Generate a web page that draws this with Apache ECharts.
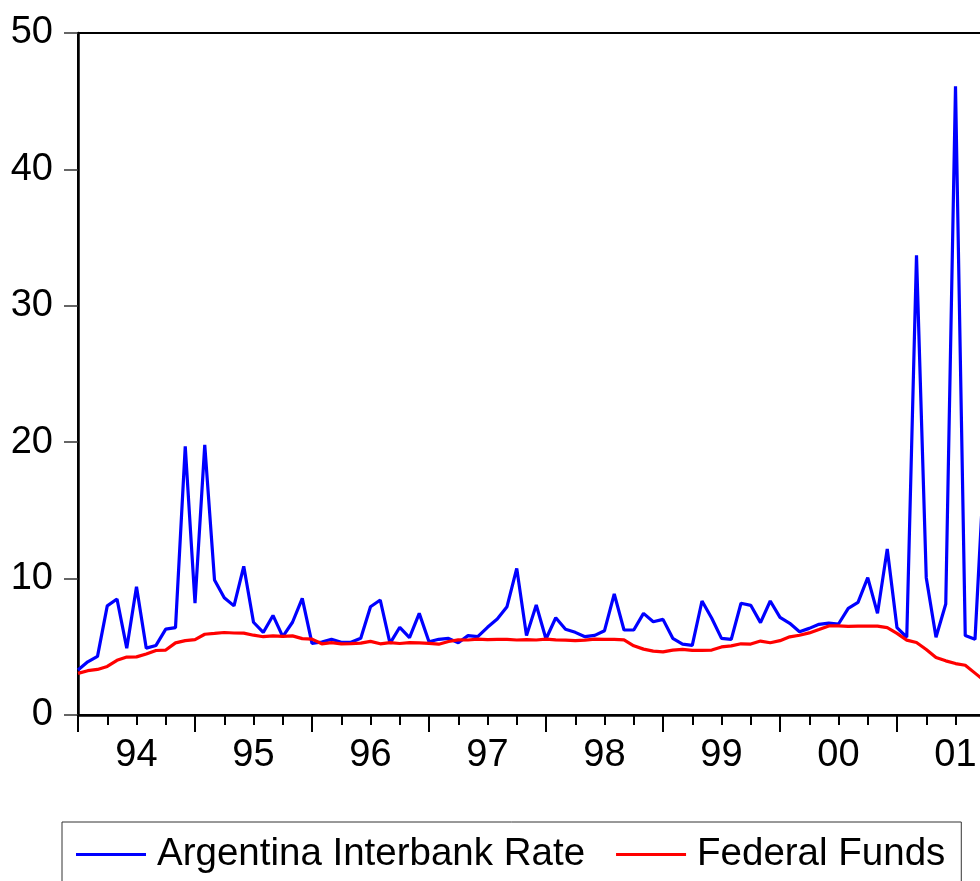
<!DOCTYPE html>
<html>
<head>
<meta charset="utf-8">
<script src="https://cdn.jsdelivr.net/npm/echarts@6/dist/echarts.min.js"></script>
<style>
html,body{margin:0;padding:0;background:#fff;overflow:hidden;width:980px;height:881px;}
#chart{width:1020px;height:881px;}
</style>
</head>
<body>
<div id="chart"></div>
<script>
// Monthly observations starting Jan 1994 (index 0)
const yearLabels = ['94','95','96','97','98','99','00','01'];
const seriesNames = ['Argentina Interbank Rate', 'Federal Funds'];
const argentinaRate = [
  3.3, 3.9, 4.3, 8.0, 8.5, 4.9, 9.4, 4.9, 5.1, 6.3, 6.4, 19.7,
  8.2, 19.8, 9.9, 8.6, 8.0, 10.9, 6.8, 6.05, 7.3, 5.75, 6.8, 8.55,
  5.25, 5.35, 5.55, 5.33, 5.33, 5.62, 7.94, 8.43, 5.25, 6.43, 5.67, 7.45,
  5.37, 5.55, 5.62, 5.3, 5.82, 5.74, 6.43, 7.04, 7.94, 10.75, 5.82, 8.06,
  5.57, 7.13, 6.28, 6.06, 5.74, 5.84, 6.18, 8.87, 6.23, 6.23, 7.45, 6.84,
  7.01, 5.62, 5.2, 5.11, 8.36, 7.09, 5.62, 5.55, 8.19, 8.04, 6.77, 8.36,
  7.16, 6.72, 6.11, 6.35, 6.65, 6.74, 6.67, 7.82, 8.26, 10.07, 7.45, 12.17,
  6.4, 5.7, 33.7, 10.07, 5.7, 8.14, 46.1, 5.82, 5.55, 19.0
];
const federalFunds = [
  3.05, 3.25, 3.34, 3.56, 4.01, 4.25, 4.26, 4.47, 4.73, 4.76, 5.29, 5.45,
  5.53, 5.92, 5.98, 6.05, 6.01, 6.00, 5.85, 5.74, 5.80, 5.76, 5.80, 5.60,
  5.56, 5.22, 5.31, 5.22, 5.24, 5.27, 5.40, 5.22, 5.30, 5.24, 5.31, 5.29,
  5.25, 5.19, 5.39, 5.51, 5.50, 5.56, 5.52, 5.54, 5.54, 5.50, 5.52, 5.50,
  5.56, 5.51, 5.49, 5.45, 5.49, 5.56, 5.54, 5.55, 5.51, 5.07, 4.83, 4.68,
  4.63, 4.76, 4.81, 4.74, 4.74, 4.76, 4.99, 5.07, 5.22, 5.20, 5.42, 5.30,
  5.45, 5.73, 5.85, 6.02, 6.27, 6.53, 6.54, 6.50, 6.52, 6.51, 6.51, 6.40,
  5.98, 5.49, 5.31, 4.80, 4.21, 3.97, 3.77, 3.65, 3.07, 2.49
];
const yTicks = {min: 0, max: 50, interval: 10};

const FONT = 'Liberation Sans, Arial, sans-serif';
const nMonths = yearLabels.length * 12;
const toPairs = arr => arr.map((v, i) => [i, v]);

const chart = echarts.init(document.getElementById('chart'), null, {renderer: 'canvas'});
chart.setOption({
  animation: false,
  backgroundColor: '#fff',
  grid: {left: 78, top: 33, width: 936, height: 682, show: true, borderColor: '#000', borderWidth: 2, backgroundColor: 'transparent'},
  xAxis: [{
    type: 'value', min: 0, max: nMonths, interval: 12, position: 'bottom',
    axisLine: {show: true, lineStyle: {color: '#000', width: 2.5}},
    axisTick: {show: true, inside: false, length: 17, lineStyle: {color: '#000', width: 2}},
    minorTick: {show: true, splitNumber: 4, length: 10, lineStyle: {color: '#000', width: 2}},
    axisLabel: {show: false},
    splitLine: {show: false}
  }, {
    type: 'value', min: 0, max: nMonths, interval: 6, position: 'bottom',
    axisLine: {show: false}, axisTick: {show: false}, splitLine: {show: false},
    axisLabel: {
      show: true, margin: 22, fontSize: 38, fontFamily: FONT, color: '#000',
      showMinLabel: true, showMaxLabel: true,
      formatter: v => (v % 12 === 6) ? yearLabels[(v - 6) / 12] : ''
    }
  }],
  yAxis: {
    type: 'value', min: yTicks.min, max: yTicks.max, interval: yTicks.interval,
    axisLine: {show: true, lineStyle: {color: '#000', width: 2.5}},
    axisTick: {show: true, inside: false, length: 14, lineStyle: {color: '#333', width: 1.5}},
    axisLabel: {margin: 25, fontSize: 38, fontFamily: FONT, color: '#000', padding: [0, 0, 7, 0]},
    splitLine: {show: false}
  },
  legend: {
    left: 62, top: 822,
    padding: [13, 16, 30, 14],
    borderColor: '#333', borderWidth: 1,
    icon: 'rect',
    itemWidth: 70, itemHeight: 3, itemGap: 31,
    textStyle: {fontSize: 38.5, fontFamily: FONT, color: '#000', padding: [0, 0, 0, 6]},
    data: seriesNames
  },
  series: [{
    name: seriesNames[0], type: 'line', xAxisIndex: 0,
    symbol: 'none', showSymbol: false,
    lineStyle: {color: '#0000ff', width: 3.2}, itemStyle: {color: '#0000ff'},
    data: toPairs(argentinaRate)
  }, {
    name: seriesNames[1], type: 'line', xAxisIndex: 0,
    symbol: 'none', showSymbol: false,
    lineStyle: {color: '#ff0000', width: 3.2}, itemStyle: {color: '#ff0000'},
    data: toPairs(federalFunds)
  }]
});
</script>
</body>
</html>
